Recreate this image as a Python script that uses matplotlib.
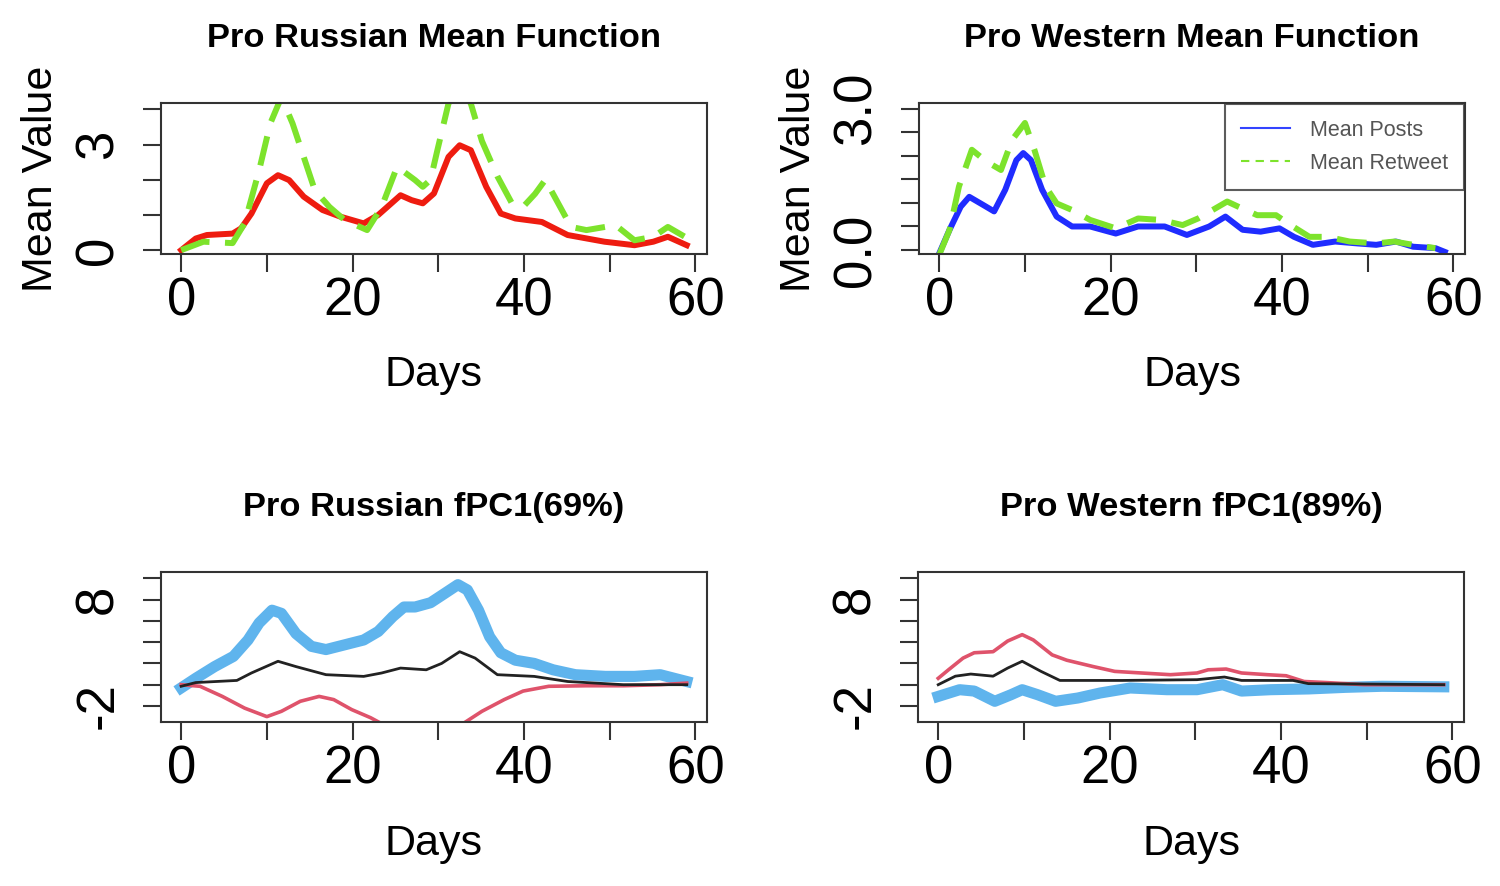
import matplotlib.pyplot as plt
from matplotlib.lines import Line2D

plt.rcParams['font.family'] = ['Liberation Sans', 'DejaVu Sans']

# Pro Russian mean functions (top left)
ru_post_days = [0, 1.7, 3, 6, 7, 8.2, 10, 11.3, 12.6, 14.3, 16.5, 18.6, 21.3, 23, 25.6, 26.9,
                28.2, 29.5, 31.2, 32.5, 33.8, 35.6, 37.3, 39, 42.1, 45.1, 49.4, 52.9, 55.1, 56.8, 59]
ru_post_vals = [0, 0.33, 0.43, 0.47, 0.62, 1.04, 1.9, 2.13, 1.99, 1.52, 1.14, 0.95, 0.76, 1.0, 1.56, 1.42,
                1.33, 1.61, 2.65, 2.98, 2.84, 1.8, 1.04, 0.9, 0.8, 0.43, 0.24, 0.14, 0.24, 0.38, 0.14]
ru_rt_days = [0, 2.6, 6, 7.4, 9.1, 10.4, 11.7, 13, 14.3, 15.6, 17.3, 19.1, 21.7, 23.4, 25.2, 27.3, 28.2,
              29.1, 29.9, 31.2, 32.5, 33.8, 35.1, 36.9, 38.6, 39.9, 41.3, 42.5, 43.8, 45.5, 47.3, 50.7,
              52.9, 55.1, 56.8, 59]
ru_rt_vals = [0, 0.24, 0.2, 0.76, 2.27, 3.6, 4.35, 3.6, 2.65, 1.7, 1.23, 0.85, 0.57, 1.23, 2.37, 1.99, 1.8,
              2.0, 2.84, 4.17, 4.6, 4.17, 3.1, 2.1, 1.33, 1.23, 1.6, 2.0, 1.42, 0.66, 0.57, 0.71,
              0.28, 0.38, 0.66, 0.35]

# Pro Western mean functions (top right)
we_post_days = [0, 1.2, 2.5, 3.5, 5.1, 6.4, 7.7, 9, 9.8, 10.7, 12, 13.7, 15.5, 17.6, 20.6, 23.2, 26.3,
                28.9, 31.5, 33.4, 35.4, 37.5, 39.7, 41.4, 43.6, 46.2, 48.8, 51, 53.3, 55.3, 57.9, 59]
we_post_vals = [-0.07, 0.43, 0.92, 1.13, 0.96, 0.82, 1.28, 1.91, 2.06, 1.91, 1.28, 0.71, 0.5, 0.5, 0.35, 0.5, 0.5,
                0.32, 0.5, 0.71, 0.43, 0.39, 0.46, 0.28, 0.11, 0.18, 0.14, 0.11, 0.18, 0.07, 0.04, -0.04]
we_rt_days = [0, 1.2, 2.3, 3.8, 5.5, 7.2, 8.5, 10, 11.1, 12.4, 13.7, 15.5, 17.6, 20.6, 23.2, 25.8, 28.4,
              30.2, 31.9, 33.6, 34.9, 37.1, 39.3, 41, 43.2, 45.3, 47.9, 51, 53.1, 55.3, 57.9]
we_rt_vals = [-0.1, 0.43, 1.35, 2.13, 1.88, 1.7, 2.34, 2.7, 2.13, 1.35, 0.99, 0.85, 0.64, 0.46, 0.67, 0.64, 0.53,
              0.67, 0.85, 1.03, 0.92, 0.74, 0.74, 0.53, 0.28, 0.28, 0.18, 0.14, 0.18, 0.11, 0.04]

# Pro Russian fPC1 (bottom left): mean, mean + pc, mean - pc
ru_mean_days = [0, 1.7, 6.5, 8.2, 11.3, 13.4, 16.9, 21.3, 23.4, 25.6, 28.6, 30.4, 32.5, 34.3, 36.9,
                41.2, 45.1, 51.6, 59]
ru_mean_vals = [-0.15, 0.2, 0.4, 1.1, 2.2, 1.7, 0.94, 0.78, 1.1, 1.56, 1.4, 2.0, 3.1, 2.5, 0.94,
                0.78, 0.3, 0.0, 0.0]
ru_plus_days = [0, 1.7, 3.9, 6.1, 7.8, 9.1, 10.6, 11.7, 13.4, 15.2, 16.9, 19.1, 21.3, 23, 24.7, 26,
                27.3, 29.1, 30.8, 32.3, 33.4, 34.7, 36, 37.3, 39, 41.2, 43.4, 46, 49.5, 52.9, 55.9, 59]
ru_plus_vals = [-0.3, 0.6, 1.7, 2.66, 4.2, 5.8, 7.0, 6.7, 4.8, 3.6, 3.3, 3.75, 4.2, 5.0, 6.4, 7.3,
                7.3, 7.7, 8.6, 9.4, 8.9, 7.0, 4.5, 3.0, 2.3, 2.0, 1.4, 0.94, 0.78, 0.78, 0.94, 0.3]
ru_minus_days = [0, 2.2, 4.8, 7.4, 10, 11.7, 13.9, 16.1, 17.8, 19.9, 22.1, 23.6, 25.5, 27.5, 30.5,
                 33, 35.1, 37.7, 39.9, 42.9, 47.3, 51.6, 55.9, 59]
ru_minus_vals = [0, -0.15, -1.1, -2.2, -3.0, -2.5, -1.56, -1.1, -1.4, -2.34, -3.1, -3.75, -4.3, -4.5, -4.6,
                 -3.6, -2.5, -1.4, -0.6, -0.15, -0.1, -0.1, 0.0, 0.15]

# Pro Western fPC1 (bottom right)
we_mean_days = [0, 2, 3.8, 6.4, 8.1, 9.8, 12, 14.2, 21.5, 30.2, 33.4, 35.4, 41.4, 43.2, 59]
we_mean_vals = [0, 0.8, 1.0, 0.8, 1.56, 2.2, 1.25, 0.4, 0.4, 0.47, 0.72, 0.4, 0.4, 0.1, 0]
we_up_days = [0, 1.2, 2.9, 4.2, 6.4, 8.1, 9.8, 11.1, 13.3, 15, 18.1, 20.6, 23.7, 27.1, 30.2, 31.5,
              33.6, 35.4, 38.4, 40.6, 42.7, 45.3, 49.7, 59]
we_up_vals = [0.6, 1.4, 2.5, 3.0, 3.1, 4.1, 4.7, 4.2, 2.8, 2.3, 1.7, 1.25, 1.1, 0.94, 1.1, 1.4,
              1.47, 1.1, 0.94, 0.84, 0.3, 0.2, 0, 0]
we_low_days = [0, 2.5, 4.2, 6.6, 8.5, 9.8, 11.6, 13.7, 16.3, 18.9, 22.4, 26.7, 30.2, 33.2, 35.4,
               38.8, 43.2, 47.5, 51.8, 59]
we_low_vals = [-1.1, -0.47, -0.6, -1.56, -0.94, -0.47, -0.94, -1.56, -1.25, -0.78, -0.31, -0.47, -0.47, 0, -0.6,
               -0.47, -0.4, -0.25, -0.15, -0.2]

x_ticks = [0, 10, 20, 30, 40, 50, 60]
x_labels = ['0', '', '20', '', '40', '', '60']

fig = plt.figure(figsize=(15, 8.86), dpi=100)


def style(ax, title, yticks, ylabels, ylim, ylabel=None):
    ax.set_xlim(-2.36, 61.36)
    ax.set_ylim(*ylim)
    ax.set_xticks(x_ticks)
    ax.set_xticklabels(x_labels)
    ax.set_yticks(yticks)
    ax.set_yticklabels(ylabels, rotation=90, va='center')
    ax.tick_params(axis='both', labelsize=38, length=13, width=1.5, color='#333333')
    ax.tick_params(axis='x', pad=3)
    ax.tick_params(axis='y', pad=14)
    for s in ax.spines.values():
        s.set_linewidth(1.5)
        s.set_color('#333333')
    ax.set_title(title, fontsize=24.8, fontweight='bold', pad=40)
    ax.set_xlabel('Days', fontsize=31, labelpad=21)
    if ylabel:
        ax.set_ylabel(ylabel, fontsize=31, labelpad=9)


green = '#7de32c'

# top left
ax1 = fig.add_axes([0.1073, 0.7133, 0.364, 0.1708])
ax1.plot(ru_post_days, ru_post_vals, color='#ee1c10', lw=4.3, solid_joinstyle='round')
ax1.plot(ru_rt_days, ru_rt_vals, color=green, lw=4.3, dashes=(5, 2.6))
style(ax1, 'Pro Russian Mean Function', [0, 1, 2, 3, 4], ['0', '', '', '3', ''], (-0.11, 4.19), 'Mean Value')

# top right
ax2 = fig.add_axes([0.6127, 0.7133, 0.364, 0.1708])
ax2.plot(we_post_days, we_post_vals, color='#1f2cff', lw=4.3, solid_joinstyle='round')
ax2.plot(we_rt_days, we_rt_vals, color=green, lw=4.3, dashes=(5, 2.6))
style(ax2, 'Pro Western Mean Function', [0, 0.5, 1, 1.5, 2, 2.5, 3],
      ['0.0', '', '', '', '', '', '3.0'], (-0.085, 3.13), 'Mean Value')
legend_elements = [Line2D([0], [0], color='#3344ff', lw=1.5, label='Mean Posts'),
                   Line2D([0], [0], color=green, lw=1.5, dashes=(4, 3), label='Mean Retweet')]
leg = ax2.legend(handles=legend_elements, loc='upper right', fontsize=15.5, frameon=True, fancybox=False,
                 borderaxespad=0.05, edgecolor='#333333', handlelength=2.3, labelspacing=0.55,
                 borderpad=0.75, handletextpad=0.9)
leg.get_frame().set_linewidth(1.5)
for t in leg.get_texts():
    t.set_color('#555555')

# bottom left
ax3 = fig.add_axes([0.1073, 0.1848, 0.364, 0.17])
ax3.plot(ru_plus_days, ru_plus_vals, color='#2297E6', lw=8, alpha=0.72, solid_joinstyle='round')
ax3.plot(ru_minus_days, ru_minus_vals, color='#DF536B', lw=2.6)
ax3.plot(ru_mean_days, ru_mean_vals, color='#222222', lw=2)
style(ax3, 'Pro Russian fPC1(69%)', [-2, 0, 2, 4, 6, 8, 10], ['-2', '', '', '', '', '8', ''], (-3.53, 10.62))

# bottom right
ax4 = fig.add_axes([0.612, 0.1848, 0.364, 0.17])
ax4.plot(we_low_days, we_low_vals, color='#2297E6', lw=8, alpha=0.72, solid_joinstyle='round')
ax4.plot(we_up_days, we_up_vals, color='#DF536B', lw=2.6)
ax4.plot(we_mean_days, we_mean_vals, color='#222222', lw=2)
style(ax4, 'Pro Western fPC1(89%)', [-2, 0, 2, 4, 6, 8, 10], ['-2', '', '', '', '', '8', ''], (-3.53, 10.62))

plt.savefig('out.png', dpi=100)
